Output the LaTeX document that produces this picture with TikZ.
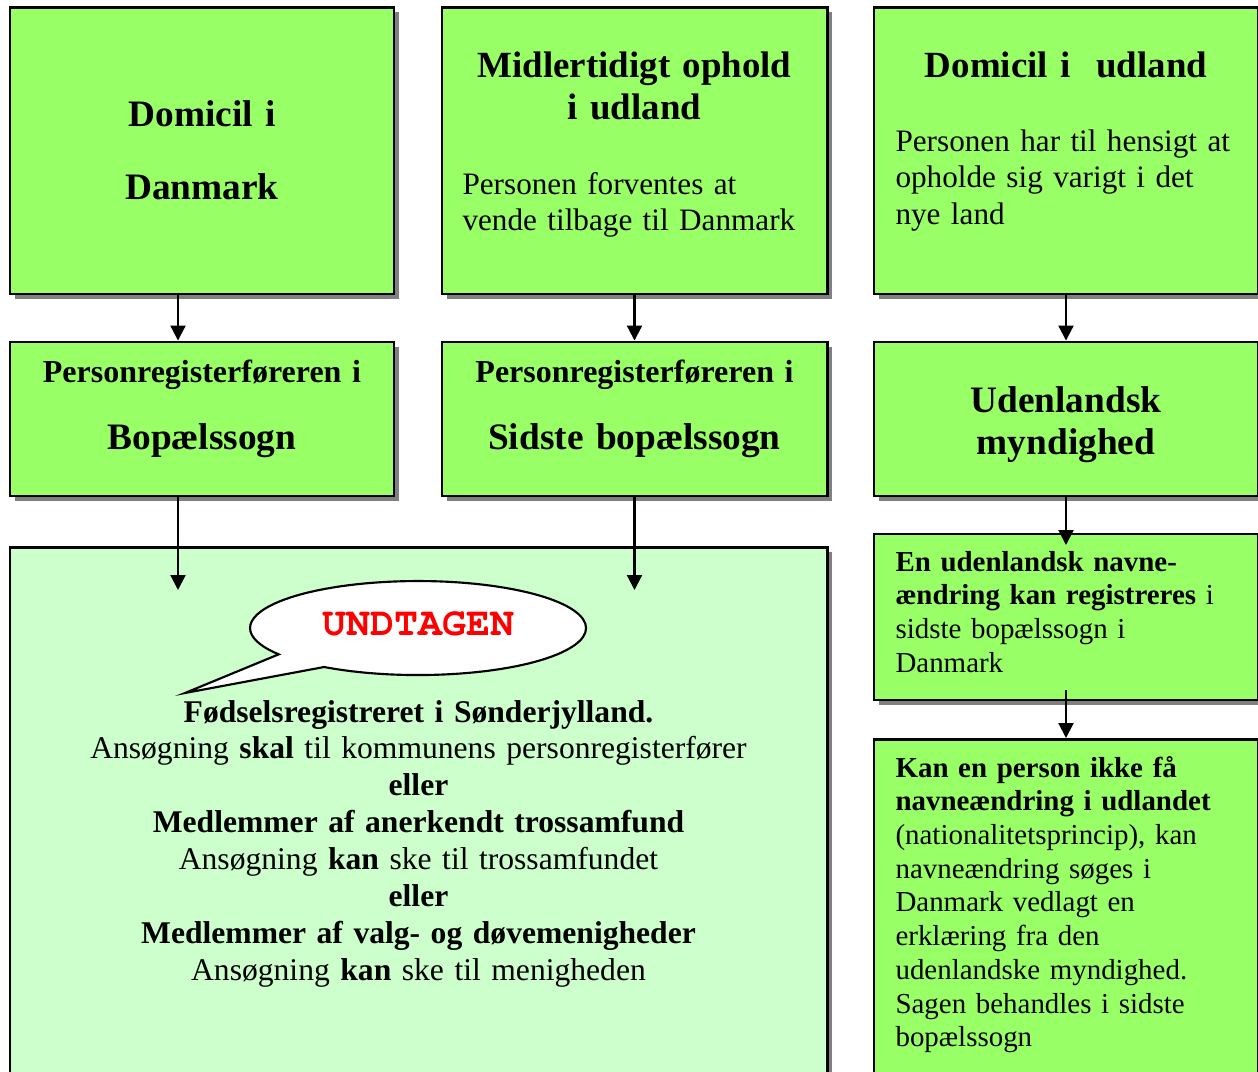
\documentclass[tikz,border=0pt]{standalone}
\usepackage{fontspec}
\setmainfont{Liberation Serif}
\newfontfamily\courierfont{TeX Gyre Cursor}
\usetikzlibrary{arrows.meta,shadows}
\definecolor{boxgreen}{HTML}{99FF66}
\definecolor{palegreen}{HTML}{CCFFCC}
\definecolor{shadowgray}{HTML}{808080}
\tikzset{
  box/.style={draw=black, line width=1.1pt, fill=boxgreen, rectangle, inner sep=0pt,
    drop shadow={shadow xshift=2pt, shadow yshift=-2pt, fill=shadowgray, opacity=1}},
  wide/.style={minimum width=144pt},
  tall/.style={minimum height=107.6pt},
  mid/.style={minimum height=57.75pt},
  arr/.style={line width=0.8pt, -{Triangle[length=5.6pt,width=5.6pt]}},
  ttl/.style={inner sep=0pt, anchor=base, text width=150pt, align=center,
    font=\fontsize{14}{15.75}\selectfont\bfseries},
  sub/.style={inner sep=0pt, anchor=base, text width=150pt, align=center,
    font=\fontsize{12}{13.84}\selectfont\bfseries},
  body/.style={inner sep=0pt, anchor=base west, text width=140pt, align=left,
    font=\fontsize{11.7}{13.84}\selectfont},
  small/.style={inner sep=0pt, anchor=base west, text width=140pt, align=left,
    font=\fontsize{10.85}{12.65}\selectfont},
  bubble/.style={draw=black, line width=0.8pt, fill=white},
}
\begin{document}
\begin{tikzpicture}[x=0.375pt,y=-0.375pt]
\useasboundingbox (0,0) rectangle (1258,1072);
\clip (0,0) rectangle (1258,1072);

% boxes
\node[box, wide, tall] (A) at (202,150.5) {};
\node[box, minimum width=144.4pt, tall] (B) at (634.5,150.5) {};
\node[box, wide, tall] (C) at (1066,150.5) {};
\node[box, wide, mid] (D) at (202,419) {};
\node[box, minimum width=144.4pt, mid] (E) at (634.5,419) {};
\node[box, wide, mid] (F) at (1066,419) {};
\node[box, fill=palegreen, minimum width=306.4pt, minimum height=203.6pt] (G) at (418.5,818.5) {};
\node[box, wide, minimum height=62.25pt] (H) at (1066,617) {};
\node[box, wide, minimum height=131.6pt] (I) at (1066,914.5) {};

% texts
\node[ttl, font=\fontsize{14}{27.4}\selectfont\bfseries] (tA) at (202,126) {Domicil i\\Danmark};
\node[ttl, font=\fontsize{13.85}{15.75}\selectfont\bfseries] (tB) at (634.5,77) {Midlertidigt ophold\\i udland};
\node[body] (bB) at (462,194) {Personen forventes at\\vende tilbage til Danmark};
\node[ttl, font=\fontsize{13.85}{15.75}\selectfont\bfseries] (tC) at (1066,77) {Domicil i\hspace{5pt} udland};
\node[body] (bC) at (895,151) {Personen har til hensigt at\\opholde sig varigt i det\\nye land};
\node[sub] (tD1) at (202,382) {Personregisterføreren i};
\node[ttl] (tD2) at (202,449) {Bopælssogn};
\node[sub] (tE1) at (634.5,382) {Personregisterføreren i};
\node[ttl] (tE2) at (634.5,449) {Sidste bopælssogn};
\node[ttl] (tF) at (1066,412) {Udenlandsk\\myndighed};
\node[small] (tH) at (895,571) {\textbf{En udenlandsk navne-}\\\textbf{ændring kan registreres} i\\sidste bopælssogn i\\Danmark};
\node[small] (tI) at (895,777) {\textbf{Kan en person ikke få}\\\textbf{navneændring i udlandet}\\(nationalitetsprincip), kan\\navneændring søges i\\Danmark vedlagt en\\erklæring fra den\\udenlandske myndighed.\\Sagen behandles i sidste\\bopælssogn};
\node[inner sep=0pt, anchor=base, text width=300pt, align=center, font=\fontsize{11.85}{13.84}\selectfont] (tG) at (418.5,722)
 {\textbf{Fødselsregistreret i Sønderjylland.}\\
  Ansøgning \textbf{skal} til kommunens personregisterfører\\
  \textbf{eller}\\
  \textbf{Medlemmer af anerkendt trossamfund}\\
  Ansøgning \textbf{kan} ske til trossamfundet\\
  \textbf{eller}\\
  \textbf{Medlemmer af valg- og døvemenigheder}\\
  Ansøgning \textbf{kan} ske til menigheden};

% speech bubble
\draw[bubble] (324.1,667) arc[start angle=124, end angle=-214, x radius=168, y radius=47] -- (185,693) -- cycle;
\node[inner sep=0pt, text=red, font=\courierfont\bfseries\fontsize{15}{18}\selectfont] (undt) at (418,623.5) {UNDTAGEN};

% connectors
\coordinate (g1) at (178,590);
\coordinate (g2) at (634.5,590);
\coordinate (h1) at (1066,545);
\coordinate (h2a) at (1066,690);
\coordinate (h2b) at (1066,738);
\draw[arr] ([xshift=-9pt]A.south) -- ([xshift=-9pt]D.north);
\draw[arr] (B.south) -- (E.north);
\draw[arr] (C.south) -- (F.north);
\draw[arr] ([xshift=-9pt]D.south) -- (g1);
\draw[arr] (E.south) -- (g2);
\draw[arr] (F.south) -- (h1);
\draw[arr] (h2a) -- (h2b);
\end{tikzpicture}
\end{document}
